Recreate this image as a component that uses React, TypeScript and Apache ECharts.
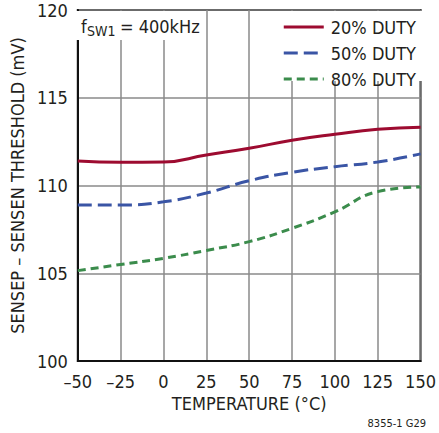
import React, { useEffect, useRef } from "react";
import * as echarts from "echarts";

const temps = [-50, -25, 0, 25, 50, 75, 100, 125, 150];
const duty20 = [111.4, 111.32, 111.34, 111.74, 112.12, 112.58, 112.92, 113.2, 113.32];
const duty50 = [108.89, 108.89, 109.07, 109.57, 110.27, 110.75, 111.07, 111.34, 111.8];
const duty80 = [105.15, 105.5, 105.85, 106.3, 106.8, 107.56, 108.5, 109.65, 109.92];
const seriesNames = ["20% DUTY", "50% DUTY", "80% DUTY"];
const xTicks = { min: -50, max: 150, interval: 25 };
const yTicks = { min: 100, max: 120, interval: 5 };

const FONT = "'Liberation Sans Narrow', 'DejaVu Sans Condensed', 'Roboto Condensed', sans-serif";
const TXT = "#231f20";

export default function App() {
  const ref = useRef<HTMLDivElement>(null);
  useEffect(() => {
    if (!ref.current) return;
    const chart = echarts.init(ref.current, undefined, { renderer: "svg" });
    const mk = (vals: number[]) => temps.map((t, i) => [t, vals[i]]);
    chart.setOption({
      animation: false,
      backgroundColor: "#fff",
      textStyle: { fontFamily: FONT },
      grid: {
        left: 74,
        right: 14,
        top: 10,
        bottom: 72,
        show: true,
        borderColor: "#111",
        borderWidth: 2,
        containLabel: false,
      },
      xAxis: {
        type: "value",
        min: xTicks.min,
        max: xTicks.max,
        interval: xTicks.interval,
        name: "TEMPERATURE (°C)",
        nameLocation: "middle",
        nameGap: 33,
        nameTextStyle: { fontFamily: FONT, fontSize: 18, color: TXT },
        axisLine: { show: true, onZero: false, lineStyle: { color: "#111", width: 2 } },
        axisTick: { show: false },
        axisLabel: {
          margin: 11,
          fontFamily: FONT,
          fontSize: 18,
          color: TXT,
          formatter: (v: number) => String(v).replace("-", "–"),
        },
        splitLine: { show: true, lineStyle: { color: "#8a8a8a", width: 1.5 } },
      },
      yAxis: {
        type: "value",
        min: yTicks.min,
        max: yTicks.max,
        interval: yTicks.interval,
        name: "SENSEP – SENSEN THRESHOLD (mV)",
        nameLocation: "middle",
        nameGap: 46,
        nameTextStyle: { fontFamily: FONT, fontSize: 18, color: TXT },
        axisLine: { show: true, onZero: false, lineStyle: { color: "#111", width: 2 } },
        axisTick: { show: false },
        axisLabel: { margin: 10, fontFamily: FONT, fontSize: 18, color: TXT },
        splitLine: { show: true, lineStyle: { color: "#8a8a8a", width: 1.5 } },
      },
      legend: {
        orient: "vertical",
        right: 18,
        top: 13,
        itemWidth: 40,
        itemHeight: 12,
        itemGap: 8,
        itemStyle: { opacity: 0 },
        lineStyle: { width: 3 },
        textStyle: { fontFamily: FONT, fontSize: 18, color: TXT, padding: [0, 0, 0, 2] },
        data: seriesNames,
      },
      graphic: [
        { type: "rect", z: 1, silent: true, shape: { x: 75, y: 11, width: 120, height: 29 }, style: { fill: "#fff" } },
        { type: "rect", z: 1, silent: true, shape: { x: 282, y: 11, width: 142, height: 70 }, style: { fill: "#fff" } },
        { type: "text", z: 5, x: 81, y: 26, style: { text: "f", font: `18px ${FONT}`, fill: TXT, verticalAlign: "middle" } },
        { type: "text", z: 5, x: 87, y: 31, style: { text: "SW1", font: `14px ${FONT}`, fill: TXT, verticalAlign: "middle" } },
        { type: "text", z: 5, x: 120, y: 26, style: { text: "= 400kHz", font: `18px ${FONT}`, fill: TXT, verticalAlign: "middle" } },
        { type: "text", z: 5, x: 426, y: 423, style: { text: "8355-1 G29", font: `11px ${FONT}`, fill: TXT, align: "right", verticalAlign: "middle" } },
      ],
      series: [
        {
          name: seriesNames[0],
          type: "line",
          smooth: 0.5,
          symbol: "none",
          data: mk(duty20),
          z: 3,
          itemStyle: { color: "#9d0b30" },
          lineStyle: { color: "#9d0b30", width: 3 },
        },
        {
          name: seriesNames[1],
          type: "line",
          smooth: 0.5,
          symbol: "none",
          data: mk(duty50),
          z: 3,
          itemStyle: { color: "#3a55a5" },
          lineStyle: { color: "#3a55a5", width: 3, type: [14, 6] },
        },
        {
          name: seriesNames[2],
          type: "line",
          smooth: 0.5,
          symbol: "none",
          data: mk(duty80),
          z: 3,
          itemStyle: { color: "#3b8c4c" },
          lineStyle: { color: "#3b8c4c", width: 3, type: [8, 5] },
        },
      ],
    });
    return () => chart.dispose();
  }, []);
  return (
    <div
      ref={ref}
      style={{ position: "absolute", left: 0, top: 0, width: 439, height: 433 }}
    />
  );
}
